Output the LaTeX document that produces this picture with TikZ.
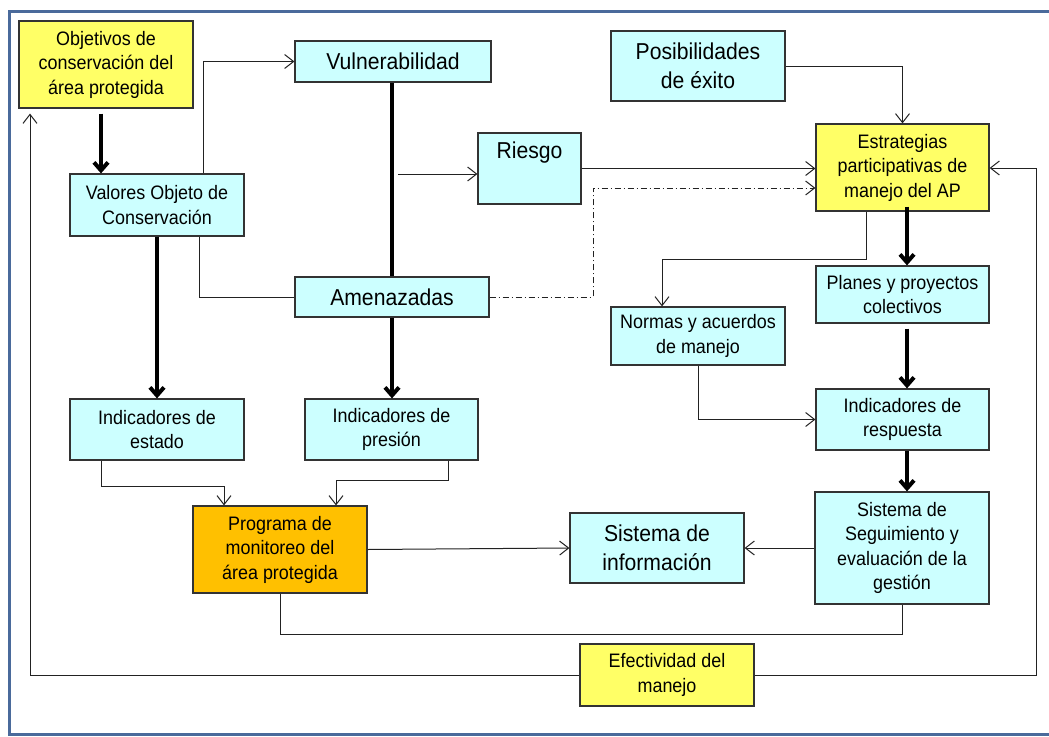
\documentclass[tikz,border=0pt]{standalone}
\usepackage{fontspec}
\setmainfont{Liberation Sans}
\newfontfamily\narrowsans[FakeStretch=0.92]{Liberation Sans}
\usetikzlibrary{arrows.meta}
\definecolor{cbox}{HTML}{CCFFFF}
\definecolor{ybox}{HTML}{FFFF66}
\definecolor{obox}{HTML}{FFC000}
\definecolor{frameblue}{HTML}{4A6A9B}
\definecolor{linegray}{HTML}{222222}
\newcommand\fsm{\narrowsans\fontsize{19.5}{24.5}\selectfont}
\newcommand\flg{\narrowsans\fontsize{23}{28.5}\selectfont}
\begin{document}
\begin{tikzpicture}[x=1pt,y=-1pt,
  box/.style={draw=black!80, line width=1.2pt, inner sep=0pt, align=center, font=\fsm},
  cbx/.style={box, fill=cbox},
  ybx/.style={box, fill=ybox},
  obx/.style={box, fill=obox},
  big/.style={font=\flg},
  thn/.style={draw=linegray, line width=1pt, -{Straight Barb[length=9pt,width=14pt]}},
  plain/.style={draw=linegray, line width=1pt},
  thk/.style={draw=black, line width=4pt, -{Straight Barb[length=8pt,width=14pt]}},
  dashdot/.style={draw=linegray, line width=1pt, dash pattern=on 6pt off 3pt on 1pt off 3pt, -{Straight Barb[length=9pt,width=14pt]}}
]
\useasboundingbox (0,0) rectangle (1049,736);
\fill[white] (0,0) rectangle (1049,736);
\draw[line width=3pt, draw=frameblue] (9,11) rectangle (1080,734);

% nodes
\node[ybx, minimum width=174pt, minimum height=87pt] (obj) at (106,64.5) {Objetivos de\\conservación del\\área protegida};
\node[cbx, big, minimum width=196pt, minimum height=41pt] (vul) at (393,61.5) {Vulnerabilidad};
\node[cbx, minimum width=174pt, minimum height=62pt] (val) at (157,205) {Valores Objeto de\\Conservación};
\node[cbx, big, minimum width=103pt, minimum height=71pt] (rie) at (529.5,168.5) {Riesgo\\\strut};
\node[cbx, big, minimum width=174pt, minimum height=70pt] (pos) at (698,66) {Posibilidades\\de éxito};
\node[ybx, minimum width=173pt, minimum height=87pt] (est) at (902.5,167.5) {Estrategias\\participativas de\\manejo del AP};
\node[cbx, big, minimum width=194pt, minimum height=40pt] (ame) at (392,297) {Amenazadas};
\node[cbx, minimum width=173pt, minimum height=57pt] (pla) at (902.5,294.5) {Planes y proyectos\\colectivos};
\node[cbx, minimum width=174pt, minimum height=58pt] (nor) at (698,336) {Normas y acuerdos\\de manejo};
\node[cbx, minimum width=173pt, minimum height=61pt] (ires) at (902.5,419.5) {Indicadores de\\respuesta};
\node[cbx, minimum width=174pt, minimum height=61pt] (iest) at (157,429.5) {Indicadores de\\estado};
\node[cbx, minimum width=173pt, minimum height=61pt] (ipre) at (391.5,429.5) {Indicadores de\\presión};
\node[obx, minimum width=174pt, minimum height=87pt] (prog) at (280,549.5) {Programa de\\monitoreo del\\área protegida};
\node[cbx, big, minimum width=174pt, minimum height=70pt] (sinf) at (657,548) {Sistema de\\información};
\node[cbx, minimum width=174pt, minimum height=112pt] (seg) at (902,548) {Sistema de\\Seguimiento y\\evaluación de la\\gestión};
\node[ybx, minimum width=174pt, minimum height=62pt] (efe) at (667,675) {Efectividad del\\manejo};

% helper coordinates
\coordinate (x101) at (101,0);
\coordinate (x203) at (203,0);
\coordinate (x199) at (199,0);
\coordinate (x907) at (907,0);
\coordinate (x698) at (698,0);
\coordinate (x448) at (448,0);
\coordinate (x30) at (30,0);
\coordinate (sp) at (398,174);
\coordinate (c593) at (593,188);
\coordinate (c866) at (866,259);
\coordinate (c662) at (662,259);
\coordinate (c224) at (224,486);
\coordinate (c336) at (336,480);
\coordinate (c902) at (902,634);
\coordinate (c1036) at (1036,168);

% thick connectors
\draw[thk] ([yshift=-5pt]obj.south -| x101) -- (val.north -| x101);
\draw[draw=black, line width=4pt] (vul.south -| ame.north) -- (ame.north);
\draw[thk] (val.south) -- (iest.north);
\draw[thk] (ame.south) -- (ame.south |- ipre.north);
\draw[thk] ([yshift=5pt]est.south -| x907) -- (pla.north -| x907);
\draw[thk] ([yshift=-5pt]pla.south -| x907) -- (ires.north -| x907);
\draw[thk] (ires.south -| x907) -- (seg.north -| x907);

% thin connectors
\draw[thn] (val.north -| x203) |- (vul.west);
\draw[thn] (sp) -- (sp -| rie.west);
\draw[thn] (rie.east) -- (rie.east -| est.west);
\draw[dashdot] (ame.east) -| (c593) -- (c593 -| est.west);
\draw[plain] (val.south -| x199) |- (ame.west);
\draw[thn] (pos.east) -| (est.north);
\draw[thn] (est.south -| c866) -- (c866) -- (c662) -- (c662 |- nor.north);
\draw[thn] (nor.south -| x698) |- (ires.west);
\draw[thn] (seg.west) -- (sinf.east);
\draw[thn] (prog.east) -- (sinf.west);
\draw[thn] (iest.south -| x101) |- (c224) -- (c224 |- prog.north);
\draw[thn] (ipre.south -| x448) |- (c336) -- (c336 |- prog.north);
\draw[plain] (prog.south) |- (c902) -- (seg.south);
\draw[thn] (efe.west) -| ([yshift=-5pt]obj.south -| x30);
\draw[thn] (efe.east) -| (c1036) -- (c1036 -| est.east);
\end{tikzpicture}
\end{document}
